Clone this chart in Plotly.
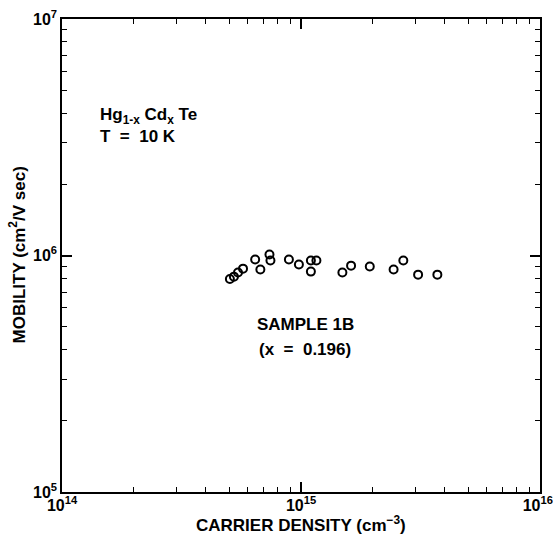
import plotly.graph_objects as go
import numpy as np

# Data
carrier_density = [5.04e14, 5.24e14, 5.45e14, 5.72e14, 6.43e14, 6.76e14, 7.38e14, 7.45e14,
                   8.90e14, 9.80e14, 1.10e15, 1.10e15, 1.16e15, 1.49e15, 1.62e15, 1.94e15,
                   2.44e15, 2.68e15, 3.09e15, 3.72e15]
mobility = [7.95e5, 8.14e5, 8.47e5, 8.80e5, 9.62e5, 8.72e5, 1.01e6, 9.52e5,
            9.62e5, 9.16e5, 9.52e5, 8.55e5, 9.52e5, 8.47e5, 9.06e5, 8.98e5,
            8.72e5, 9.52e5, 8.30e5, 8.30e5]

x_major = [1e14, 1e15, 1e16]
x_major_text = ["10<sup>14</sup>", "10<sup>15</sup>", "10<sup>16</sup>&nbsp;"]
y_major = [1e5, 1e6, 1e7]
y_major_text = ["10<sup>5</sup>", "10<sup>6</sup>", "10<sup>7</sup>"]

x_minor = [m * d for d in [1e14, 1e15] for m in range(2, 10)]
y_minor = [m * d for d in [1e5, 1e6] for m in range(2, 10)]

x_title = "CARRIER DENSITY (cm<sup>−3</sup>)"
y_title = "MOBILITY (cm<sup>2</sup>/V sec)"

FONT = "Liberation Sans, Arial, sans-serif"
FS = 17
TFS = 16

fig = go.Figure()
fig.add_trace(go.Scatter(
    x=carrier_density, y=mobility, mode="markers",
    marker=dict(symbol="circle-open", size=8, color="black", line=dict(width=2, color="black")),
    showlegend=False,
))

axis_common = dict(
    type="log", showgrid=False, zeroline=False, automargin=False,
    showline=True, linecolor="black", linewidth=1.5, mirror="ticks",
    ticks="inside", ticklen=10, tickwidth=1.5, tickcolor="black",
    tickfont=dict(family=FONT, size=TFS, color="black"),
    ticklabeloverflow="allow",
)

fig.update_xaxes(
    **axis_common,
    range=[14, 16], tickmode="array", tickvals=x_major,
    ticktext=["<b>%s</b>" % t for t in x_major_text],
    ticklabelstandoff=-2,
    minor=dict(tickmode="array", tickvals=x_minor, ticks="inside", ticklen=5,
               tickwidth=1.3, tickcolor="black", showgrid=False),
)
fig.update_yaxes(
    **axis_common,
    range=[5, 7], tickmode="array", tickvals=y_major,
    ticktext=["<b>%s</b>" % t for t in y_major_text],
    minor=dict(tickmode="array", tickvals=y_minor, ticks="inside", ticklen=5,
               tickwidth=1.3, tickcolor="black", showgrid=False),
)

annotations = [
    dict(x=np.log10(1.41e14), y=np.log10(3.9e6), text="<b>Hg<sub>1-x</sub> Cd<sub>x</sub> Te</b>",
         xanchor="left", yanchor="middle", xref="x", yref="y"),
    dict(x=np.log10(1.41e14), y=np.log10(3.2e6), text="<b>T&nbsp;&nbsp;=&nbsp;&nbsp;10&nbsp;K</b>",
         xanchor="left", yanchor="middle", xref="x", yref="y"),
    dict(x=np.log10(1.04e15), y=np.log10(5.1e5), text="<b>SAMPLE&nbsp;1B</b>",
         xanchor="center", yanchor="middle", xref="x", yref="y"),
    dict(x=np.log10(1.04e15), y=np.log10(4.0e5), text="<b>(x&nbsp;&nbsp;=&nbsp;&nbsp;0.196)</b>",
         xanchor="center", yanchor="middle", xref="x", yref="y"),
    dict(x=0.5, y=0, xref="paper", yref="paper", text="<b>%s</b>" % x_title,
         xanchor="center", yanchor="middle", yshift=-32),
    dict(x=0, y=0.5, xref="paper", yref="paper", text="<b>%s</b>" % y_title,
         xanchor="center", yanchor="middle", xshift=-45, textangle=-90),
]
for a in annotations:
    a.update(showarrow=False, font=dict(family=FONT, size=FS, color="black"))
fig.update_layout(annotations=annotations)

fig.update_layout(
    width=553, height=537,
    margin=dict(l=62, r=13, t=19, b=45),
    paper_bgcolor="white", plot_bgcolor="white",
    font=dict(family=FONT, color="black"),
)

fig.write_html("out.html")
